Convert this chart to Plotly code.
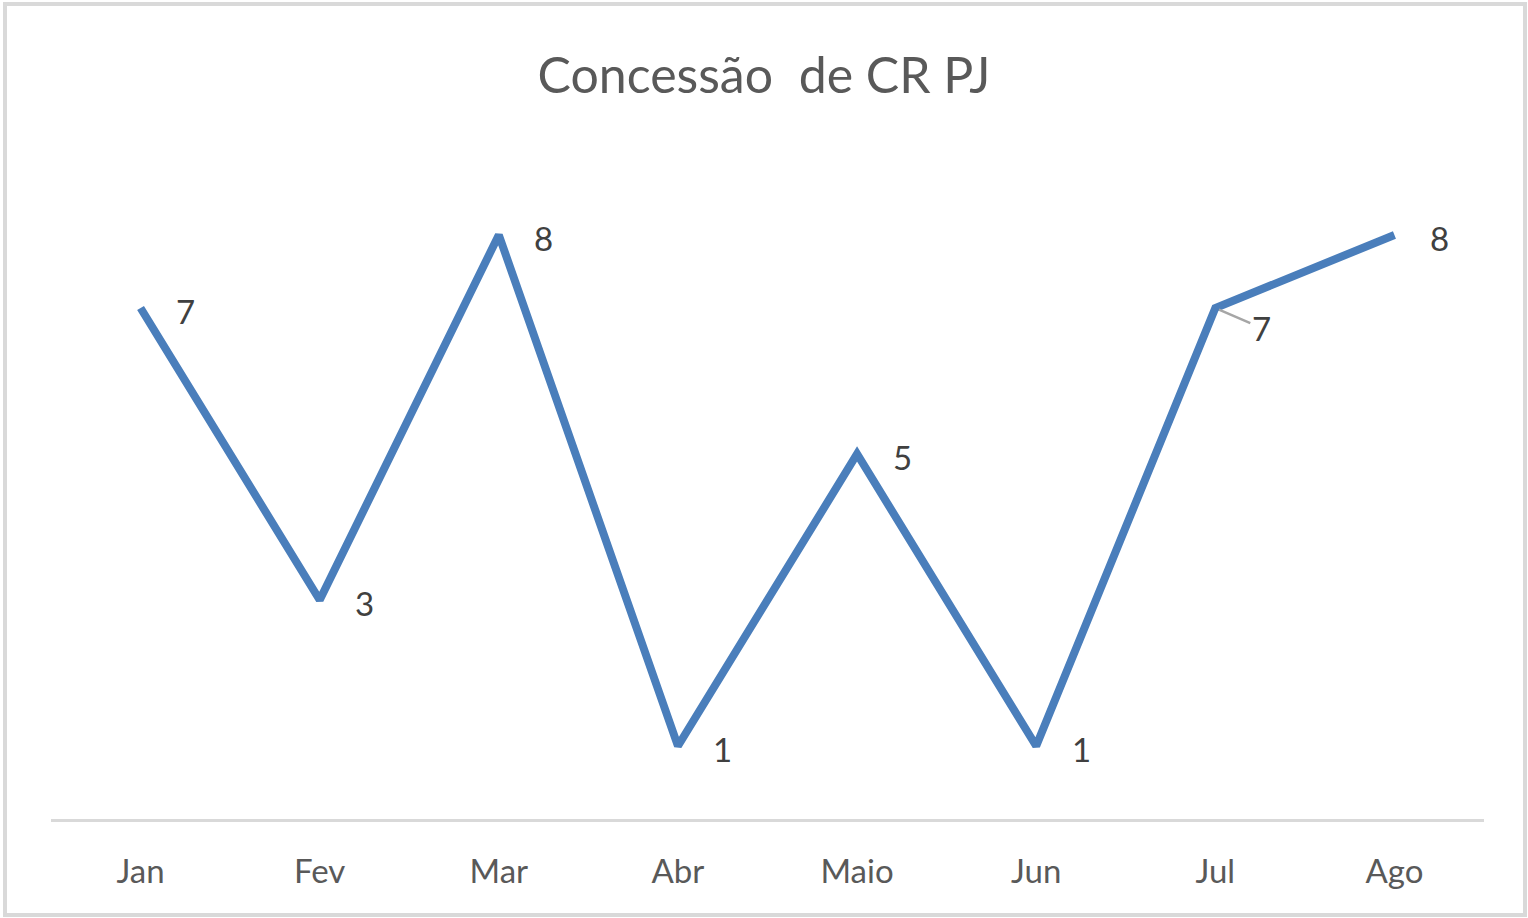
import plotly.graph_objects as go

# dados do grafico
meses = ["Jan", "Fev", "Mar", "Abr", "Maio", "Jun", "Jul", "Ago"]
concessoes = [7, 3, 8, 1, 5, 1, 7, 8]
titulo = "Concessão  de CR PJ"

W, H = 1528, 918
ml, mr, mt, mb = 51, 44, 162, 99

fig = go.Figure()
fig.add_trace(go.Scatter(x=meses, y=concessoes, mode='lines',
                         line=dict(color='#4a7ebb', width=8),
                         hoverinfo='x+y'))

# rotulos de dados a direita dos pontos
for m, v in zip(meses, concessoes):
    if m == "Jul":
        fig.add_annotation(x=m, y=v, text=str(v), showarrow=True,
                           arrowhead=0, arrowwidth=2.5, arrowcolor='#a6a6a6',
                           ax=46, ay=20, standoff=4,
                           font=dict(family='Lato', size=33, color='#404040'))
    else:
        fig.add_annotation(x=m, y=v, text=str(v), showarrow=False,
                           xshift=45, yshift=-3,
                           font=dict(family='Lato', size=33, color='#404040'))

# moldura externa
fw = W - ml - mr
fh = H - mt - mb
fig.add_shape(type='rect', xref='paper', yref='paper',
              x0=(5 - ml) / fw, x1=(1525 - ml) / fw,
              y0=(H - mb - 915) / fh, y1=(H - mb - 4) / fh,
              line=dict(color='#d9d9d9', width=4))

fig.update_layout(
    width=W, height=H,
    margin=dict(l=ml, r=mr, t=mt, b=mb),
    paper_bgcolor='white', plot_bgcolor='white',
    showlegend=False,
    title=dict(text=titulo, x=0.5, xanchor='center', y=1 - 75 / H, yanchor='middle',
               font=dict(family='Lato', size=50, color='#595959')),
    xaxis=dict(showgrid=False, zeroline=False, showline=True,
               linecolor='#d9d9d9', linewidth=3, ticks='',
               ticklabelstandoff=21, range=[-0.5, 7.5],
               tickfont=dict(family='Lato', size=33, color='#595959')),
    yaxis=dict(range=[0, 9], showgrid=False, zeroline=False,
               showticklabels=False, showline=False),
)

fig.write_html("out.html", config={'displayModeBar': False},
               post_script="document.body.style.margin='0';")
